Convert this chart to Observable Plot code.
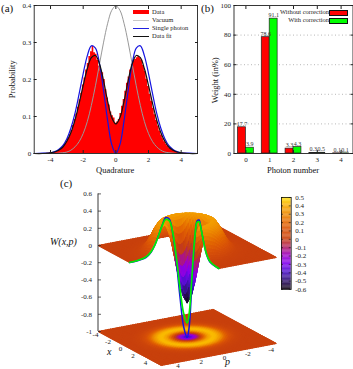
<!DOCTYPE html>
<html><head><meta charset="utf-8">
<script src="https://cdn.jsdelivr.net/npm/d3@7"></script>
<script src="https://cdn.jsdelivr.net/npm/@observablehq/plot@0.6"></script>
<style>
html,body{margin:0;padding:0;background:#fff}
#wrap{position:relative;width:353px;height:369px;overflow:hidden;font-family:"Liberation Serif",serif;color:#111}
.t{position:absolute;white-space:nowrap;line-height:1}
</style></head><body><div id="wrap"></div>
<script>
// ---------- panel (a) ----------
const histStart = -4.5, histStep = 0.1;
const histValues = [0,0,0,.001,.001,.002,.002,.003,.004,.005,
 .008,.011,.015,.020,.026,.033,.042,.051,.062,.076,
 .092,.107,.125,.145,.163,.185,.204,.226,.243,.262,
 .275,.289,.272,.268,.252,.236,.222,.218,.200,.172,
 .150,.131,.112,.102,.096,.082,.085,.092,.108,.128,
 .146,.168,.190,.207,.226,.240,.250,.254,.259,.262,
 .258,.252,.238,.222,.201,.181,.160,.141,.122,.105,
 .089,.074,.061,.050,.040,.032,.025,.019,.014,.011,
 .008,.006,.004,.003,.002,.002,.001,.001,.001,0,0];
const q = [0,.25,.5,.75,1,1.25,1.5,1.75,2,2.25,2.5,2.75,3,3.25,3.5,3.75,4,4.5,5];
const vacuum = [.399,.387,.352,.301,.242,.183,.130,.086,.054,.032,.018,.009,.004,.002,.001,0,0,0,0];
const single = [0,.024,.088,.169,.242,.285,.291,.264,.216,.161,.109,.069,.040,.021,.011,.005,.002,.001,0];
const fit = [.080,.097,.141,.196,.242,.265,.259,.229,.184,.135,.091,.057,.033,.017,.009,.004,.002,0,0];
const legendA = ["Data","Vacuum","Single photon","Data fit"];
const legendAColors = ["#ff0000","#c8c8c8","#2020e0","#111111"];
// ---------- panel (b) ----------
const photon = [0,1,2,3,4];
const without = [17.7,78.6,3.3,0.3,0.1];
const withCorr = [3.9,91.1,4.3,0.5,0.1];
const legendB = ["Without correction","With correction"];
const legendBColors = ["#ff0000","#00ff00"];
// ---------- panel (c) ----------
const radius =     [0,.25,.5,.75,1,1.25,1.5,1.75,2,2.25,2.5,2.75,3,3.5,4,6];
const surfaceW =   [-.60,-.52,-.33,-.08,.15,.30,.36,.34,.27,.18,.10,.05,.02,.005,0,0];
const baseW =      [-.45,-.35,-.20,-.02,.20,.37,.43,.42,.33,.20,.10,.05,.02,0,0,0];
const theoryW =    [-1,-.864,-.515,-.098,.24,.418,.44,.358,.246,.145,.074,.034,.014,.002,0,0];
const dataW =      [-.83,-.71,-.41,-.05,.25,.40,.42,.35,.245,.145,.08,.04,.02,.005,0,0];
const cutRadius = radius.slice(0,15);
const zTicks = [-1,-.8,-.6,-.4,-.2,0,.2,.4,.6];
const gridTicks = [-4,-2,0,2,4];
const barTicks = [-.6,-.5,-.4,-.3,-.2,-.1,0,.1,.2,.3,.4,.5];
const palette = ["#0c0010","#301070","#4a10c8","#8000f0","#a000c8","#b02060","#c8400c","#d85008","#e46800","#ee8c00","#f8ac00","#ffe400"];

const wrap = document.getElementById("wrap");
const serif = "'Liberation Serif',serif";
function place(svg,l,t){svg.style.position="absolute";svg.style.left=l+"px";svg.style.top=t+"px";svg.style.background="transparent";wrap.appendChild(svg);}
function label(text,l,t,size,extra=""){const d=document.createElement("div");d.className="t";d.textContent=text;d.style.cssText=`left:${l}px;top:${t}px;font-size:${size}px;${extra}`;wrap.appendChild(d);return d;}
function swatch(l,t,w,h,c,border){const d=document.createElement("div");d.style.cssText=`position:absolute;left:${l}px;top:${t}px;width:${w}px;height:${h}px;background:${c};${border?"outline:0.7px solid #111;":""}`;wrap.appendChild(d);}

const frameAxes=(xt,yt,fmtY)=>[
  Plot.axisX({ticks:xt,anchor:"bottom",tickSize:-3,tickPadding:7,tickFormat:d=>String(d),label:null,stroke:"#222"}),
  Plot.axisX({ticks:xt,anchor:"top",tickSize:-3,tickFormat:()=>"",label:null,stroke:"#222"}),
  Plot.axisY({ticks:yt,anchor:"left",tickSize:-3,tickPadding:6,tickFormat:fmtY,label:null,stroke:"#222"}),
  Plot.axisY({ticks:yt,anchor:"right",tickSize:-3,tickFormat:()=>"",label:null,stroke:"#222"}),
  Plot.frame({stroke:"#222",strokeWidth:0.9})
];

// panel a
const hist = histValues.map((v,i)=>({x:histStart+i*histStep,v}));
const mirror = arr => [...q.slice(1).reverse().map((d,i)=>({x:-d,v:arr[q.length-1-i]})),...q.map((d,i)=>({x:d,v:arr[i]}))];
const A = Plot.plot({width:205,height:170,marginLeft:33.7,marginRight:8,marginTop:5,marginBottom:17,
  style:{fontFamily:serif,fontSize:"7px",background:"transparent",color:"#222"},
  x:{domain:[-5,5]},y:{domain:[0,.4]},
  marks:[
    Plot.areaY(hist,{x:"x",y:"v",curve:"step",fill:"#ff0000"}),
    Plot.line(mirror(vacuum),{x:"x",y:"v",stroke:"#999",strokeWidth:1,curve:"catmull-rom"}),
    Plot.line(mirror(single),{x:"x",y:"v",stroke:"#1414e0",strokeWidth:1.2,curve:"catmull-rom"}),
    Plot.line(mirror(fit),{x:"x",y:"v",stroke:"#111",strokeWidth:1.2,curve:"catmull-rom"}),
    ...frameAxes([-4,-2,0,2,4],[0,.1,.2,.3,.4],d=>String(d))
  ]});
place(A,0,0);

// panel b
const barsA = photon.map((n,i)=>({n,v:without[i]}));
const barsB = photon.map((n,i)=>({n,v:withCorr[i]}));
const barW = 1/3;
const B = Plot.plot({width:136,height:170,marginLeft:16.5,marginRight:0.5,marginTop:5,marginBottom:17,
  style:{fontFamily:serif,fontSize:"7px",background:"transparent",color:"#222"},
  x:{domain:[-.5,4.5]},y:{domain:[0,100]},
  marks:[
    Plot.ruleY([20,40,60,80],{stroke:"#999",strokeWidth:.7,strokeDasharray:"1,2.5"}),
    Plot.rectY(barsA,{x1:d=>d.n-barW,x2:"n",y:"v",fill:"#ff0000",stroke:"#222",strokeWidth:.7}),
    Plot.rectY(barsB,{x1:"n",x2:d=>d.n+barW,y:"v",fill:"#00ff00",stroke:"#222",strokeWidth:.7}),
    Plot.text(barsA,{x:d=>d.n-barW/2,y:"v",text:d=>d.v.toFixed(1),dy:-3.5,fontSize:6,fill:"#333"}),
    Plot.text(barsB,{x:d=>d.n+barW/2,y:"v",text:d=>d.v.toFixed(1),dy:-3.5,fontSize:6,fill:"#333"}),
    ...frameAxes(photon,[0,20,40,60,80,100],d=>String(d))
  ]});
place(B,217,0);

// panel c: linear view of (x,p,z) onto the page
const view = {cx:186.7,cy:251,xx:7.9,xy:4.25,px:-14.4,py:2.75,zy:-86};
const sx = (x,p)=>view.cx+x*view.xx+p*view.px;
const sy = (x,p,z)=>view.cy+x*view.xy+p*view.py+z*view.zy;
const surf = d3.scaleLinear(radius,surfaceW), base = d3.scaleLinear(radius,baseW);
const step = .125, gv = d3.range(-4,4,step);
function cells(fn,zOf,skip){
  const order=[];
  for(const x of gv) for(const p of gv){ if(skip&&skip(x,p)) continue; order.push([x,p]); }
  order.sort((a,b)=>(a[0]*view.xy+a[1]*view.py)-(b[0]*view.xy+b[1]*view.py));
  const out=[];
  order.forEach(([x,p],k)=>{
    const w=fn(Math.hypot(x+step/2,p+step/2));
    for(const [a,b] of [[x,p],[x+step,p],[x+step,p+step],[x,p+step],[x,p]]){
      const r=Math.hypot(a,b);
      out.push({k,w,sx:sx(a,b),sy:sy(a,b,zOf(r))});
    }
  });
  return out;
}
const baseCells = cells(base,()=>-1);
const topCells = cells(surf,r=>surf(r),(x,p)=>x>=0&&p>=0);
function cutCurve(arr){
  const n=cutRadius.length;
  return [...cutRadius.slice().reverse().map((r,i)=>({sx:sx(0,r),sy:sy(0,r,arr[n-1-i])})),
          ...cutRadius.slice(1).map((r,i)=>({sx:sx(r,0),sy:sy(r,0,arr[i+1])}))];
}
const axisX0 = sx(-4,4);
const zAxis = zTicks.map(z=>({z,sx:axisX0,sx2:axisX0+3,sy:sy(-4,4,z)}));
const edgeX = gridTicks.map(x=>({t:x,sx:120+6.25*x,sy:348+3.5*x}));
const edgeP = gridTicks.map(p=>({t:p,sx:224-11.65*p,sy:357+2*p}));
const colorOpts = {type:"linear",domain:barTicks,range:palette,clamp:true,interpolate:"rgb"};
const C = Plot.plot({width:353,height:194,margin:0,
  style:{fontFamily:serif,fontSize:"7px",background:"transparent",color:"#222"},
  x:{domain:[0,353],range:[0,353],axis:null},y:{domain:[175,369],range:[0,194],axis:null},color:colorOpts,
  marks:[
    Plot.line(baseCells,{x:"sx",y:"sy",z:"k",fill:"w",stroke:"w",strokeWidth:1}),
    Plot.line(topCells,{x:"sx",y:"sy",z:"k",fill:"w",stroke:"w",strokeWidth:1}),
    Plot.line(cutCurve(theoryW),{x:"sx",y:"sy",stroke:"#1414e0",strokeWidth:1.5,curve:"catmull-rom"}),
    Plot.line(cutCurve(dataW),{x:"sx",y:"sy",stroke:"#00f000",strokeWidth:1.7,curve:"catmull-rom"}),
    Plot.ruleX([axisX0],{y1:sy(-4,4,-1),y2:sy(-4,4,.6),stroke:"#222",strokeWidth:.9}),
    Plot.link(zAxis,{x1:"sx",x2:"sx2",y1:"sy",y2:"sy",stroke:"#222",strokeWidth:.7}),
    Plot.text(zAxis,{x:"sx",y:"sy",text:d=>String(d.z),dx:-6,textAnchor:"end",fontSize:7,fill:"#222"}),
    Plot.text(edgeX,{x:"sx",y:"sy",text:d=>String(d.t),fontSize:7,fill:"#222"}),
    Plot.text(edgeP,{x:"sx",y:"sy",text:d=>String(d.t),fontSize:7,fill:"#222"})
  ]});
place(C,0,175);

// colour bar
const barCells = d3.range(-.6,.5,.01).map(v=>({v}));
const Bar = Plot.plot({width:50,height:104,marginLeft:1,marginRight:39.3,marginTop:4,marginBottom:8,
  style:{fontFamily:serif,fontSize:"7px",background:"transparent",color:"#222"},
  x:{domain:[0,1],axis:null},y:{domain:[-.6,.5]},color:colorOpts,
  marks:[
    Plot.rect(barCells,{x1:0,x2:1,y1:"v",y2:d=>d.v+.0105,fill:"v"}),
    Plot.ruleY(barTicks,{stroke:"#111",strokeWidth:.6,x1:0,x2:.2}),
    Plot.ruleY(barTicks,{stroke:"#111",strokeWidth:.6,x1:.8,x2:1}),
    Plot.axisY({anchor:"right",ticks:barTicks,tickSize:0,tickPadding:4,tickFormat:d=>String(+d.toFixed(1)),label:null}),
    Plot.frame({stroke:"#111",strokeWidth:.8})
  ]});
place(Bar,280,193.3);

// text
label("(a)",1,3,11);
label("(b)",201,3,11);
label("(c)",60,178,11);
label("Quadrature",96,166,8.5);
label("Photon number",267,166,8.5);
label("Probability",-8,75,8.5,"transform:rotate(-90deg);width:40px;text-align:center;");
label("Weight (in%)",190,76,8.5,"transform:rotate(-90deg);width:50px;text-align:center;");
label("W(x,p)",50,237,10,"font-style:italic;");
label("x",107,347,10,"font-style:italic;");
label("p",225,357,10,"font-style:italic;");
legendA.forEach((t,i)=>{
  const y=12.2+i*8;
  swatch(133,y-(i==0?2:.6),16,i==0?4:1.2,legendAColors[i]);
  label(t,152,y-3,6.5,"color:#222;");
});
legendB.forEach((t,i)=>{
  const y=12.5+i*8;
  swatch(330,y-2,16.5,4,legendBColors[i],true);
  const d=label(t,0,y-3.5,6.5,"color:#222;");
  d.style.left="";d.style.right=(353-329)+"px";
});
</script></body></html>
